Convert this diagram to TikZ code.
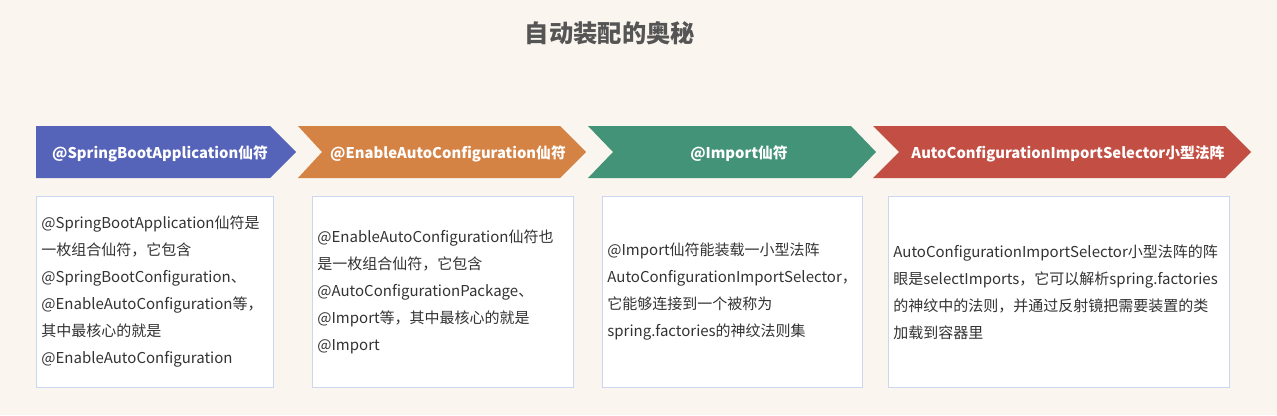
\documentclass[tikz,border=0pt]{standalone}
\usepackage{fontspec}
\setmainfont{Noto Sans CJK SC}
\usepackage{tikz}
\usetikzlibrary{positioning}
\definecolor{bgcream}{HTML}{FAF6EF}
\definecolor{springblue}{HTML}{5563B9}
\definecolor{enableorange}{HTML}{D58345}
\definecolor{importgreen}{HTML}{429377}
\definecolor{selectorred}{HTML}{C24E44}
\definecolor{boxline}{HTML}{CDD6F0}
\definecolor{titlegray}{HTML}{555555}
\definecolor{textgray}{HTML}{333333}

\begin{document}
\begin{tikzpicture}[x=1pt,y=-1pt,
    bannertext/.style={text=white,yshift=-2pt,font=\fontsize{14.8}{16}\selectfont\bfseries},
    infobox/.style={draw=boxline,fill=white,line width=0.8pt,anchor=north west,
        minimum height=191pt,inner xsep=5pt,align=left,text=textgray,
        font=\fontsize{15}{27}\selectfont}]

            % Nền
            \fill[bgcream] (0,0) rectangle (1277,415);
            \useasboundingbox (0,0) rectangle (1277,415);

            % Tiêu đề
            \node[text=titlegray,font=\fontsize{24.3}{27}\selectfont\bfseries] (title) at (610,33) {自动装配的奥秘};

            % Các mũi tên
            \fill[springblue] (36,126) -- (270,126) -- (296,152) -- (270,178) -- (36,178) -- cycle;
            \fill[enableorange] (298,126) -- (560,126) -- (586,152) -- (560,178) -- (298,178) -- (322,152) -- cycle;
            \fill[importgreen] (588,126) -- (851,126) -- (876,152) -- (851,178) -- (588,178) -- (613,152) -- cycle;
            \fill[selectorred] (873,126) -- (1225,126) -- (1251,152) -- (1225,178) -- (873,178) -- (899,152) -- cycle;

            % Chữ trên mũi tên
            \node[bannertext] (springhead) at (160,152) {@SpringBootApplication仙符};
            \node[bannertext] (enablehead) at (448,152) {@EnableAutoConfiguration仙符};
            \node[bannertext] (importhead) at (739,152) {@Import仙符};
            \node[bannertext] (selectorhead) at (1068,152) {AutoConfigurationImportSelector小型法阵};

            % Các hộp mô tả
            \node[infobox,text width=227pt] (springbox) at (36,196)
                {@SpringBootApplication仙符是\\一枚组合仙符，它包含\\@SpringBootConfiguration、\\@EnableAutoConfiguration等，\\其中最核心的就是\\@EnableAutoConfiguration};
            \node[infobox,text width=251pt] (enablebox) at (312,196)
                {@EnableAutoConfiguration仙符也\\是一枚组合仙符，它包含\\@AutoConfigurationPackage、\\@Import等，其中最核心的就是\\@Import};
            \node[infobox,text width=250pt] (importbox) at (602,196)
                {@Import仙符能装载一小型法阵\\AutoConfigurationImportSelector，\\它能够连接到一个被称为\\spring.factories的神纹法则集};
            \node[infobox,text width=331pt] (selectorbox) at (888,196)
                {AutoConfigurationImportSelector小型法阵的阵\\眼是selectImports，它可以解析spring.factories\\的神纹中的法则，并通过反射镜把需要装置的类\\加载到容器里};

            \end{tikzpicture}
\end{document}
